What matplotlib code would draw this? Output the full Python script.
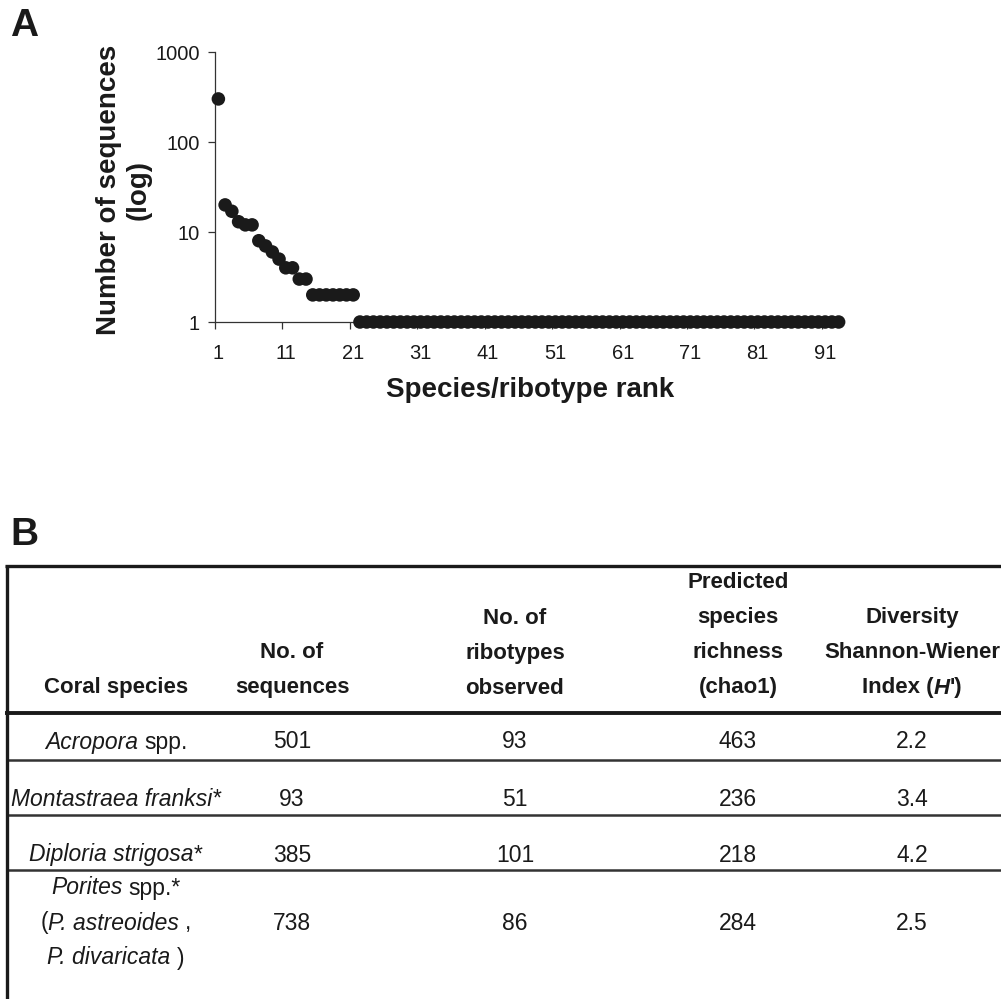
import matplotlib
matplotlib.use("Agg")
import matplotlib.pyplot as plt
from matplotlib.lines import Line2D
from matplotlib import font_manager

W, H, DPI = 1001, 999, 100

# ---------------- data ----------------
# Panel A: rank-abundance of ribotypes (number of sequences per ribotype)
counts = [301, 20, 17, 13, 12, 12, 8, 7, 6, 5, 4, 4, 3, 3,
          2, 2, 2, 2, 2, 2, 2,
          1, 1, 1, 1, 1, 1, 1, 1, 1, 1, 1, 1, 1, 1, 1, 1, 1, 1, 1, 1,
          1, 1, 1, 1, 1, 1, 1, 1, 1, 1, 1, 1, 1, 1, 1, 1, 1, 1, 1, 1,
          1, 1, 1, 1, 1, 1, 1, 1, 1, 1, 1, 1, 1, 1, 1, 1, 1, 1, 1, 1,
          1, 1, 1, 1, 1, 1, 1, 1, 1, 1, 1, 1]
ranks = list(range(1, len(counts) + 1))
y_ticks = [1, 10, 100, 1000]
y_ticklabels = ["1", "10", "100", "1000"]
x_ticklabels = ["1", "11", "21", "31", "41", "51", "61", "71", "81", "91"]
x_label_positions = [1, 11, 21, 31, 41, 51, 61, 71, 81, 91]

# Panel B: table  (text between underscores is italic)
headers = ["Coral species",
           "No. of\nsequences",
           "No. of\nribotypes\nobserved",
           "Predicted\nspecies\nrichness\n(chao1)",
           "Diversity\nShannon-Wiener\nIndex (_H_')"]
species = ["_Acropora_ spp.",
           "_Montastraea franksi_*",
           "_Diploria strigosa_*",
           "_Porites_ spp.*\n(_P. astreoides_ ,\n_P. divaricata_ )"]
n_sequences = ["501", "93", "385", "738"]
n_ribotypes = ["93", "51", "101", "86"]
chao1 = ["463", "236", "218", "284"]
shannon = ["2.2", "3.4", "4.2", "2.5"]

# ---------------- fonts ----------------
names = {f.name for f in font_manager.fontManager.ttflist}
SANS = "Liberation Sans" if "Liberation Sans" in names else "DejaVu Sans"
if "Liberation Sans Narrow" in names:
    NARROW, HSIZE, BSIZE = "Liberation Sans Narrow", 18.5, 19.5
else:
    NARROW, HSIZE, BSIZE = SANS, 16, 16.5
INK = "#1a1a1a"

fig = plt.figure(figsize=(W / DPI, H / DPI), dpi=DPI)
fig.patch.set_facecolor("white")


def fx(x):
    return x / W


def fy(y):
    return 1 - y / H


# ---------------- Panel A ----------------
fig.text(fx(10), fy(8), "A", fontsize=28, fontweight="bold", family=SANS,
         ha="left", va="top", color=INK)

ax_l, ax_r, ax_t, ax_b = 215, 842, 52, 322
ax = fig.add_axes([fx(ax_l), fy(ax_b), (ax_r - ax_l) / W, (ax_b - ax_t) / H])
ax.set_yscale("log")
ax.scatter(ranks, counts, s=95, color=INK, edgecolors="none", zorder=3,
           clip_on=False)
ax.set_ylim(1, 1000)
ax.set_xlim(0.5, len(counts) + 0.5)
ax.set_yticks(y_ticks)
ax.set_yticklabels(y_ticklabels)
ax.yaxis.set_minor_locator(matplotlib.ticker.NullLocator())
# tick marks at category boundaries, labels at category centres
ax.set_xticks([p - 0.5 for p in x_label_positions])
ax.set_xticklabels([])
ax.set_xticks(x_label_positions, minor=True)
ax.set_xticklabels(x_ticklabels, minor=True)
for side in ["top", "right"]:
    ax.spines[side].set_visible(False)
for side in ["left", "bottom"]:
    ax.spines[side].set_color("#333333")
    ax.spines[side].set_linewidth(0.9)
ax.tick_params(axis="y", which="major", length=5, width=0.9, color="#333333",
               labelsize=14.5, pad=6, labelcolor=INK)
ax.tick_params(axis="x", which="major", length=5, width=0.9, color="#333333")
ax.tick_params(axis="x", which="minor", length=0, labelsize=14.5, pad=16,
               labelcolor=INK)
for lab in ax.get_yticklabels() + ax.get_xticklabels(minor=True):
    lab.set_family(SANS)
ax.set_facecolor("none")

fig.text(fx(124), fy(190), "Number of sequences\n(log)", rotation=90,
         fontsize=20, fontweight="bold", family=SANS, ha="center",
         va="center", multialignment="center", linespacing=1.15, color=INK)
fig.text(fx(530), fy(390), "Species/ribotype rank", fontsize=20,
         fontweight="bold", family=SANS, ha="center", va="center", color=INK)

# ---------------- Panel B ----------------
fig.text(fx(10), fy(517), "B", fontsize=28, fontweight="bold", family=SANS,
         ha="left", va="top", color=INK)

renderer = fig.canvas.get_renderer()


def seg_width(s, bold, italic, size):
    t = fig.text(0, 0, s, fontsize=size, family=NARROW,
                 fontweight="bold" if bold else "normal",
                 fontstyle="italic" if italic else "normal")
    w = t.get_window_extent(renderer).width
    t.remove()
    return w


def rich_line(xc, yc, s, bold=False, size=BSIZE):
    space = seg_width("a a", bold, False, size) - seg_width("aa", bold, False, size)
    parts = s.split("_")
    pieces = []
    for i, p in enumerate(parts):
        if not p:
            continue
        italic = (i % 2 == 1)
        lead = len(p) - len(p.lstrip(" "))
        trail = len(p) - len(p.rstrip(" "))
        core = p.strip(" ")
        pieces.append((lead * space, core, italic, trail * space))
    total = sum(l + (seg_width(c, bold, it, size) if c else 0) + tr
                for l, c, it, tr in pieces)
    x = xc - total / 2
    for l, c, it, tr in pieces:
        x += l
        if c:
            fig.text(fx(x), fy(yc), c, fontsize=size, family=NARROW,
                     fontweight="bold" if bold else "normal",
                     fontstyle="italic" if it else "normal",
                     ha="left", va="center", color=INK)
            x += seg_width(c, bold, it, size)
        x += tr


col_x = [116, 292, 515, 738, 912]
LINE_GAP = 35
header_bottom = 688
for xc, h in zip(col_x, headers):
    lines = h.split("\n")
    for k, ln in enumerate(reversed(lines)):
        rich_line(xc, header_bottom - k * LINE_GAP, ln, bold=True, size=HSIZE)

row_centers = [742, 799, 855, 923]
columns = [species, n_sequences, n_ribotypes, chao1, shannon]
for r, yc in enumerate(row_centers):
    for xc, col in zip(col_x, columns):
        lines = col[r].split("\n")
        n = len(lines)
        for k, ln in enumerate(lines):
            rich_line(xc, yc + (k - (n - 1) / 2) * LINE_GAP, ln)


# frame and rules
def hline(y, lw, color="#222222", x0=5):
    fig.add_artist(Line2D([fx(x0), fx(W + 2)], [fy(y), fy(y)], lw=lw,
                          color=color, solid_capstyle="butt"))


hline(566, 2.4, INK)
hline(713, 2.8, INK)
for y in [760, 815, 870]:
    hline(y, 1.8, "#333333", x0=7)
fig.add_artist(Line2D([fx(6.5), fx(6.5)], [fy(565), fy(H + 2)], lw=2.4,
                      color=INK, solid_capstyle="butt"))

fig.savefig("out.png", dpi=DPI, facecolor="white")
